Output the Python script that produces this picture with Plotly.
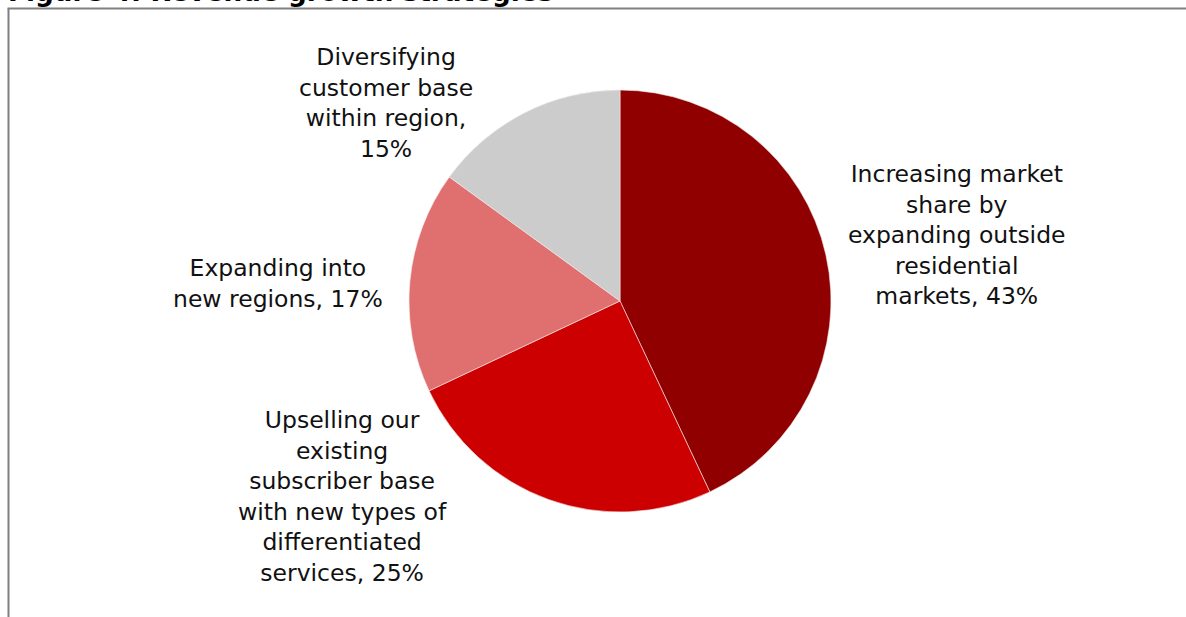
import plotly.graph_objects as go

# Survey shares for each revenue growth strategy (percent)
categories = [
    "Increasing market<br>share by<br>expanding outside<br>residential<br>markets",
    "Upselling our<br>existing<br>subscriber base<br>with new types of<br>differentiated<br>services",
    "Expanding into<br>new regions",
    "Diversifying<br>customer base<br>within region",
]
values = [43, 25, 17, 15]
value_sep = [", ", ", ", ", ", ",<br>"]
colors = ["#910000", "#CC0000", "#E07070", "#CCCCCC"]

title_text = "Figure 4: Revenue growth strategies"

W, H = 1186, 617


def px(x):
    return x / W


def py(y):
    return 1 - y / H


# pie placement (pixels): centre and radius
cx, cy, r = 620, 301, 211

fig = go.Figure(
    go.Pie(
        labels=[c.replace("<br>", " ") for c in categories],
        values=values,
        sort=False,
        direction="clockwise",
        rotation=0,
        textinfo="none",
        marker=dict(colors=colors, line=dict(color="#f4eaea", width=0.6)),
        showlegend=False,
        domain=dict(x=[px(cx - r), px(cx + r)], y=[py(cy + r), py(cy - r)]),
    )
)

# label anchor points (pixels), one per slice
label_pos = [(957, 235), (342, 496), (278, 283), (386, 103)]

annotations = []
for cat, val, sep, (lx, ly) in zip(categories, values, value_sep, label_pos):
    annotations.append(
        dict(
            text=f"{cat}{sep}{val}%",
            x=px(lx), y=py(ly), xref="paper", yref="paper",
            xanchor="center", yanchor="middle", align="center",
            showarrow=False,
            font=dict(family="DejaVu Sans", size=23.5, color="#111111"),
        )
    )

# figure caption, partly above the top edge
annotations.append(
    dict(
        text=f"<b>{title_text}</b>",
        x=px(6), y=py(9), xref="paper", yref="paper",
        xanchor="left", yanchor="bottom", align="left",
        showarrow=False,
        font=dict(family="DejaVu Sans", size=26.3, color="#000000"),
    )
)

# frame lines along the left and top
shapes = [
    dict(type="line", xref="paper", yref="paper",
         x0=px(8.5), x1=px(8.5), y0=py(H + 5), y1=py(8.5),
         line=dict(color="#808080", width=2)),
    dict(type="line", xref="paper", yref="paper",
         x0=px(7.5), x1=px(W + 5), y0=py(8.5), y1=py(8.5),
         line=dict(color="#808080", width=2)),
]

fig.update_layout(
    width=W, height=H,
    margin=dict(l=0, r=0, t=0, b=0),
    paper_bgcolor="white", plot_bgcolor="white",
    annotations=annotations,
    shapes=shapes,
)

fig.write_html("out.html")
